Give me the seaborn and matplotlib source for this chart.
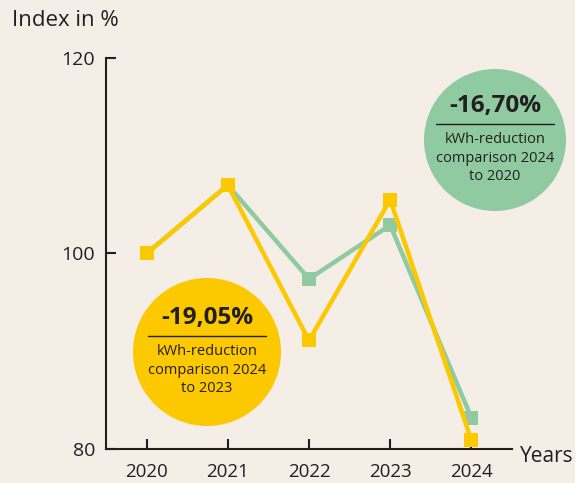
import pandas as pd
import matplotlib.pyplot as plt
import seaborn as sns
from matplotlib.patches import Circle
from matplotlib.transforms import IdentityTransform

# Data (index in %)
years = [2020, 2021, 2022, 2023, 2024]
green_vals = [100, 107.0, 97.4, 102.9, 83.2]
yellow_vals = [100, 107.0, 91.1, 105.5, 80.9]
series_names = ['green', 'yellow']
y_ticks = [80, 100, 120]

bg = '#f4eee7'
green = '#8fcaa1'
yellow = '#fcc800'
dark = '#231f20'

df = pd.DataFrame({
    'year': years * 2,
    'value': green_vals + yellow_vals,
    'series': ['green'] * len(years) + ['yellow'] * len(years),
})

sns.set_theme(style='white')
plt.rcParams['font.family'] = ['Open Sans', 'DejaVu Sans']

W, H = 575, 483
fig = plt.figure(figsize=(W / 100, H / 100), dpi=100, facecolor=bg)
ax = fig.add_axes([106 / W, 34 / H, 406 / W, 391 / H])
ax.set_facecolor(bg)

sns.lineplot(data=df, x='year', y='value', hue='series', hue_order=series_names,
             palette={'green': green, 'yellow': yellow}, marker='s', markersize=10,
             markeredgewidth=0, linewidth=3.2, legend=False, ax=ax, zorder=3)

ax.set_xlim(2019.5, 2024.5)
ax.set_ylim(80, 120)
ax.set_xticks(years)
ax.set_yticks(y_ticks)
ax.set_xlabel('')
ax.set_ylabel('')
for s in ['top', 'right']:
    ax.spines[s].set_visible(False)
for s in ['left', 'bottom']:
    ax.spines[s].set_color(dark)
    ax.spines[s].set_linewidth(1.5)
ax.tick_params(axis='both', direction='in', length=7.5, width=1.5, color=dark,
               labelcolor=dark, left=True, bottom=True)
ax.tick_params(axis='y', pad=8, labelsize=14)
ax.tick_params(axis='x', pad=10, labelsize=13.5)

fig.text(12 / W, 1 - 20 / H, 'Index in %', fontsize=16, color=dark, va='center')
fig.text(520 / W, 1 - 456 / H, 'Years', fontsize=15, color=dark, va='center')


# Bubbles placed in pixel coordinates
def bubble(cx, cy, r, color, big, lines):
    c = Circle((cx, H - cy), r, facecolor=color, edgecolor='none',
               transform=IdentityTransform(), zorder=5)
    fig.add_artist(c)
    fig.text(cx / W, 1 - (cy - 34) / H, big, fontsize=17.5, fontweight='bold',
             color=dark, ha='center', va='center', zorder=6)
    fig.add_artist(plt.Line2D([(cx - 59) / W, (cx + 59) / W],
                              [1 - (cy - 16) / H, 1 - (cy - 16) / H],
                              color=dark, linewidth=1, zorder=6))
    fig.text(cx / W, 1 - (cy + 18) / H, lines, fontsize=10.5, color=dark,
             ha='center', va='center', linespacing=1.35, zorder=6)


bubble(495, 140, 71, green, '-16,70%', 'kWh-reduction\ncomparison 2024\nto 2020')
bubble(207, 352, 74, yellow, '-19,05%', 'kWh-reduction\ncomparison 2024\nto 2023')

fig.savefig('out.png', dpi=100, facecolor=bg)
